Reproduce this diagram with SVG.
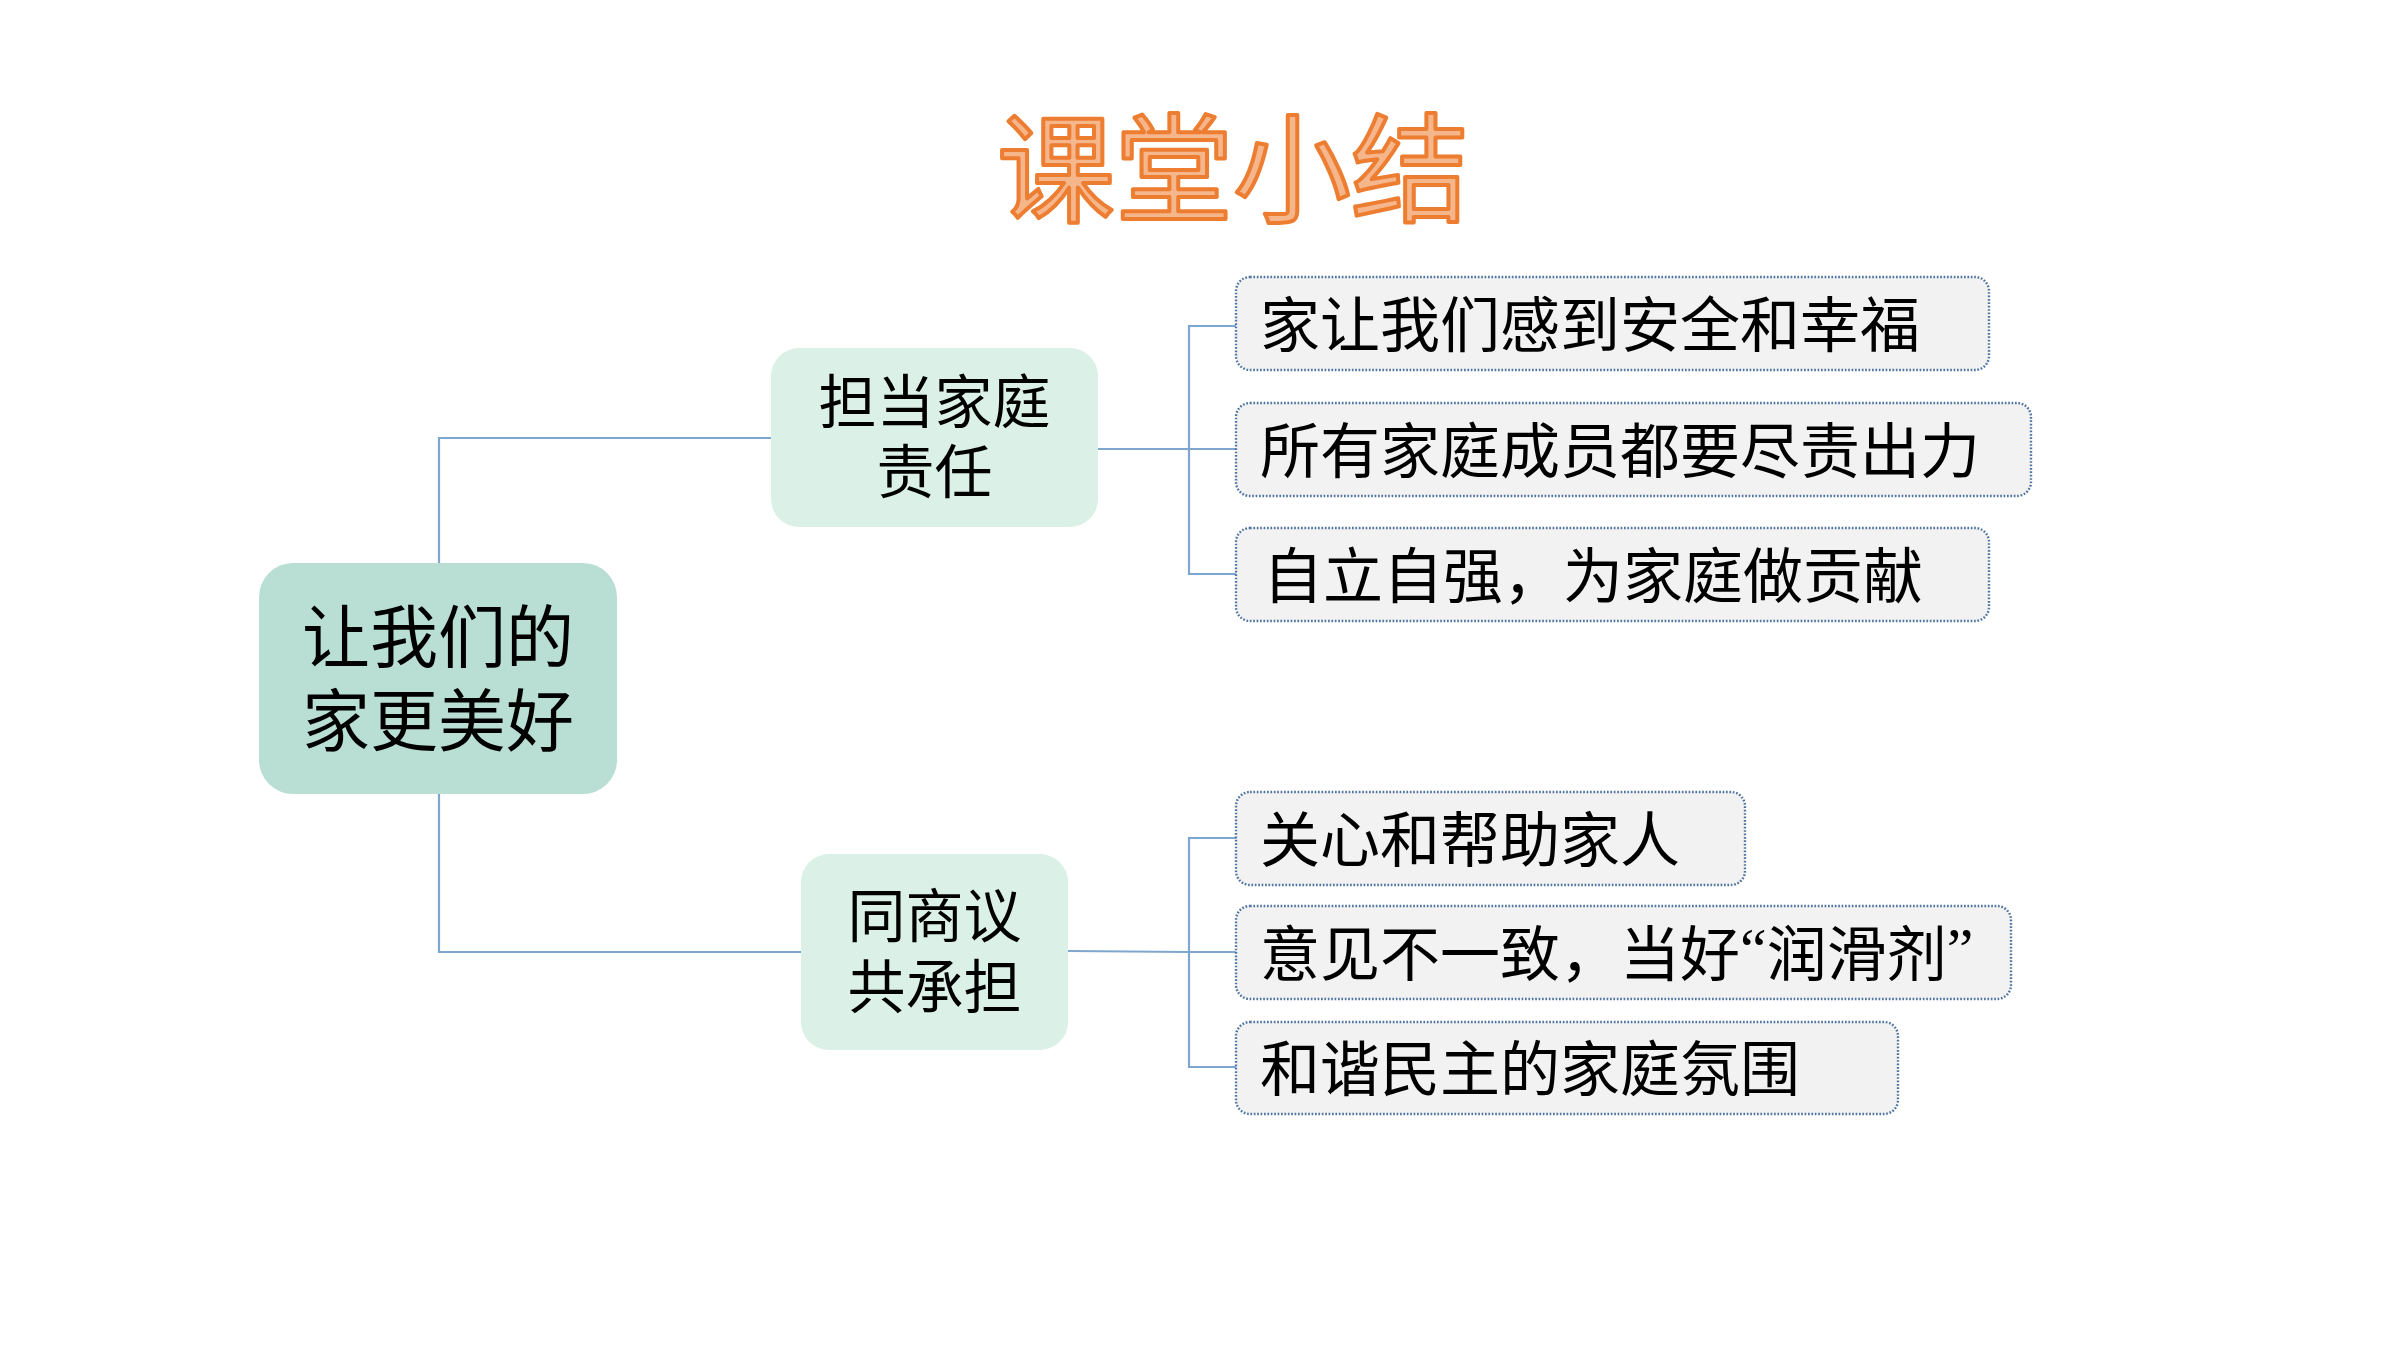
<svg xmlns="http://www.w3.org/2000/svg" width="2400" height="1350" viewBox="0 0 2400 1350">
<style>
.cjk{font-family:"Noto Sans CJK SC","Noto Sans CJK TC",sans-serif;fill:#000;}
.title{font-family:"Noto Sans CJK SC",sans-serif;font-size:118px;fill:#F6B68C;stroke:#ED7D31;stroke-width:4;stroke-linejoin:round;}
.root{fill:#B9DED3;}
.mid{fill:#DBF0E7;}
.leaf{fill:#F2F2F2;stroke:#4F75A0;stroke-width:2.4;stroke-dasharray:1.7 1.7;}
.conn{fill:none;stroke:#7EA6CF;stroke-width:2.2;}
.leaftext{font-size:60px;}
.midtext{font-size:58px;}
.roottext{font-size:68px;}
</style>
<rect width="2400" height="1350" fill="#FFFFFF"/>
<g id="title">
<text class="title" x="1233" y="161" text-anchor="middle" dominant-baseline="central">课堂小结</text>
</g>
<g id="connectors">
<path class="conn" d="M439 563 V438 H771"/>
<path class="conn" d="M439 794 V952 H801"/>
<path class="conn" d="M1098 449 H1189"/>
<path class="conn" d="M1236 326 H1189 V574 H1236"/>
<path class="conn" d="M1189 449 H1236"/>
<path class="conn" d="M1068 951 L1189 952"/>
<path class="conn" d="M1236 838 H1189 V1067 H1236"/>
<path class="conn" d="M1189 952 H1236"/>
</g>
<g id="root">
<rect class="root" x="259" y="563" width="358" height="231" rx="34" ry="34"/>
<text class="cjk roottext" text-anchor="middle" dominant-baseline="central"><tspan x="438" y="632">让我们的</tspan><tspan x="438" y="716">家更美好</tspan></text>
</g>
<g id="node-a">
<rect class="mid" x="771" y="348" width="327" height="179" rx="28" ry="28"/>
<text class="cjk midtext" text-anchor="middle" dominant-baseline="central"><tspan x="934.5" y="398">担当家庭</tspan><tspan x="934.5" y="468">责任</tspan></text>
</g>
<g id="node-b">
<rect class="mid" x="801" y="854" width="267" height="196" rx="28" ry="28"/>
<text class="cjk midtext" text-anchor="middle" dominant-baseline="central"><tspan x="934.5" y="912">同商议</tspan><tspan x="934.5" y="983">共承担</tspan></text>
</g>
<g id="leaf-a1">
<rect class="leaf" x="1236" y="277" width="753" height="93" rx="14" ry="14"/>
<text class="cjk leaftext" x="1260" y="320" dominant-baseline="central">家让我们感到安全和幸福</text>
</g>
<g id="leaf-a2">
<rect class="leaf" x="1236" y="403" width="795" height="93" rx="14" ry="14"/>
<text class="cjk leaftext" x="1260" y="446" dominant-baseline="central">所有家庭成员都要尽责出力</text>
</g>
<g id="leaf-a3">
<rect class="leaf" x="1236" y="528" width="753" height="93" rx="14" ry="14"/>
<text class="cjk leaftext" x="1263" y="571" dominant-baseline="central">自立自强，为家庭做贡献</text>
</g>
<g id="leaf-b1">
<rect class="leaf" x="1236" y="792" width="509" height="93" rx="14" ry="14"/>
<text class="cjk leaftext" x="1260" y="835" dominant-baseline="central">关心和帮助家人</text>
</g>
<g id="leaf-b2">
<rect class="leaf" x="1236" y="906" width="775" height="93" rx="14" ry="14"/>
<text class="cjk leaftext" x="1260" y="949" dominant-baseline="central">意见不一致，当好<tspan font-family="Liberation Serif, serif">“</tspan>润滑剂<tspan font-family="Liberation Serif, serif">”</tspan></text>
</g>
<g id="leaf-b3">
<rect class="leaf" x="1236" y="1022" width="662" height="92" rx="14" ry="14"/>
<text class="cjk leaftext" x="1260" y="1064" dominant-baseline="central">和谐民主的家庭氛围</text>
</g>
</svg>
